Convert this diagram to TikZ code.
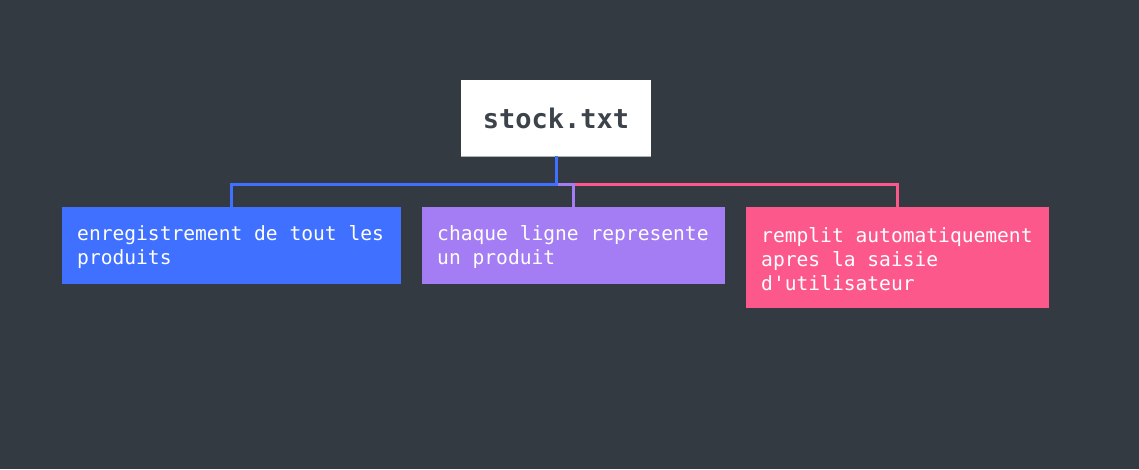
\documentclass[tikz,border=0pt]{standalone}
\usepackage{fontspec}
\setmonofont[WordSpace={1,0,0}]{DejaVu Sans Mono}
\usepackage{tikz}

\definecolor{bgdark}{HTML}{343A42}
\definecolor{rootink}{HTML}{3D434B}
\definecolor{cblue}{HTML}{4070FF}
\definecolor{cpurple}{HTML}{A47CF3}
\definecolor{cpink}{HTML}{FC588C}

\tikzset{
  rootbox/.style={rectangle, fill=white, text=rootink, minimum width=190, minimum height=76,
    inner sep=0pt, font=\ttfamily\bfseries\fontsize{27}{30}\selectfont},
  leafbox/.style={rectangle, anchor=north west, text=white, inner xsep=15pt,
    inner ysep=0pt, font=\ttfamily\fontsize{19.6}{24}\selectfont,
    execute at begin node={\spaceskip=0pt\xspaceskip=0pt\rule{0pt}{18pt}}},
  link/.style={line width=3pt}
}

\begin{document}
\begin{tikzpicture}[x=1pt,y=-1pt]
\fill[bgdark] (0,0) rectangle (1139,469);
\useasboundingbox (0,0) rectangle (1139,469);

\node[rootbox] (stock) at (556,118) {stock.txt};
\draw[gray!60, line width=1pt] (stock.south west) -- (stock.south east);

\node[leafbox, fill=cblue, text width=309, minimum height=77] (enreg) at (62,207)
  {enregistrement de tout les\\produits};
\node[leafbox, fill=cpurple, text width=273, minimum height=77] (ligne) at (422,207)
  {chaque ligne represente\\un produit};
\node[leafbox, fill=cpink, text width=273, minimum height=101] (remplit) at (746,207)
  {remplit automatiquement\\apres la saisie\\d'utilisateur};

\coordinate (bus) at (556,184);

% connectors, drawn back to front
\draw[link, cpink] (stock.south) -- (bus) -| (remplit.north);
\draw[link, cpurple] (stock.south) -- (bus) -| (ligne.north);
\draw[link, cblue] (stock.south) -- (bus) -| (enreg.north);

\end{tikzpicture}
\end{document}
